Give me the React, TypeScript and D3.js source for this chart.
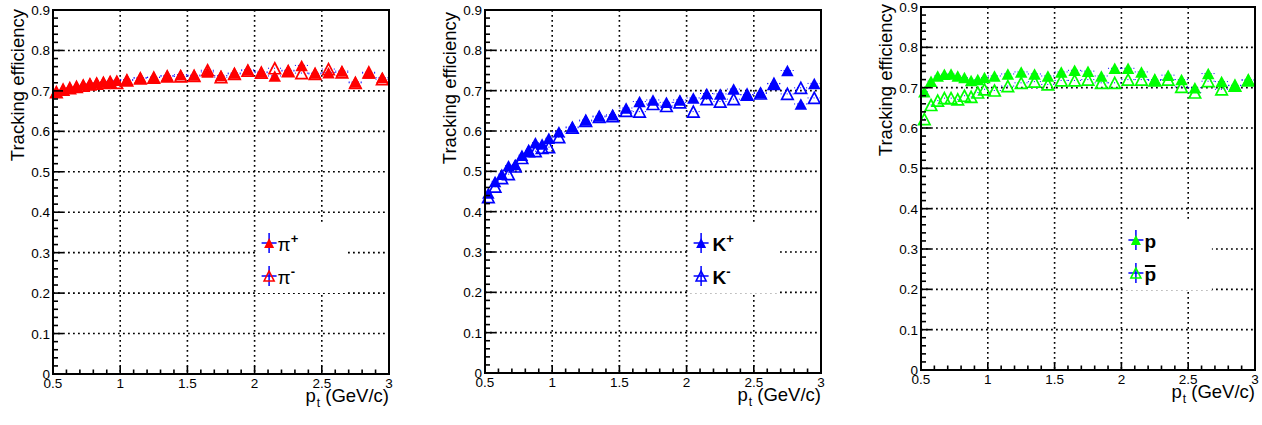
import React from 'react';
import * as d3 from 'd3';

// ---- data ----
const PT = [
  0.525, 0.575, 0.625, 0.675, 0.725, 0.775, 0.825, 0.875, 0.925, 0.975,
  1.05, 1.15, 1.25, 1.35, 1.45, 1.55, 1.65, 1.75, 1.85, 1.95,
  2.05, 2.15, 2.25, 2.35, 2.45, 2.55, 2.65, 2.75, 2.85, 2.95,
];

const PI_PLUS = [
  0.698, 0.704, 0.708, 0.711, 0.715, 0.718, 0.72, 0.722, 0.724, 0.726,
  0.728, 0.733, 0.734, 0.738, 0.74, 0.739, 0.747, 0.738, 0.744, 0.752,
  0.747, 0.737, 0.751, 0.763, 0.744, 0.745, 0.749, 0.722, 0.744, 0.733,
];
const PI_MINUS = [
  0.697, 0.703, 0.707, 0.71, 0.713, 0.716, 0.718, 0.72, 0.722, 0.72,
  0.726, 0.731, 0.733, 0.736, 0.736, 0.737, 0.751, 0.734, 0.742, 0.75,
  0.745, 0.756, 0.749, 0.744, 0.742, 0.754, 0.746, 0.72, 0.746, 0.729,
];

const K_PLUS = [
  0.446, 0.475, 0.493, 0.514, 0.517, 0.54, 0.552, 0.571, 0.568, 0.582,
  0.598, 0.61, 0.627, 0.637, 0.64, 0.657, 0.673, 0.677, 0.671, 0.677,
  0.682, 0.693, 0.692, 0.704, 0.69, 0.695, 0.718, 0.75, 0.667, 0.718,
];
const K_MINUS = [
  0.436, 0.462, 0.483, 0.493, 0.512, 0.533, 0.55, 0.55, 0.558, 0.56,
  0.585, 0.608, 0.625, 0.635, 0.637, 0.65, 0.648, 0.667, 0.662, 0.671,
  0.648, 0.679, 0.673, 0.679, 0.69, 0.693, 0.717, 0.692, 0.707, 0.682,
];

const PROTON = [
  0.69, 0.716, 0.729, 0.733, 0.734, 0.729, 0.725, 0.718, 0.72, 0.725,
  0.729, 0.734, 0.739, 0.734, 0.729, 0.739, 0.743, 0.741, 0.729, 0.748,
  0.748, 0.739, 0.72, 0.731, 0.72, 0.7, 0.735, 0.715, 0.706, 0.72,
];
const ANTIPROTON = [
  0.622, 0.657, 0.668, 0.674, 0.674, 0.671, 0.68, 0.677, 0.688, 0.696,
  0.693, 0.704, 0.712, 0.715, 0.708, 0.718, 0.718, 0.72, 0.712, 0.712,
  0.72, 0.72, 0.718, 0.72, 0.702, 0.688, 0.716, 0.696, 0.705, 0.718,
];

const X_TICKS = [0.5, 1, 1.5, 2, 2.5, 3];
const X_TICK_LABELS = ['0.5', '1', '1.5', '2', '2.5', '3'];
const Y_TICKS = [0, 0.1, 0.2, 0.3, 0.4, 0.5, 0.6, 0.7, 0.8, 0.9];
const Y_TICK_LABELS = ['0', '0.1', '0.2', '0.3', '0.4', '0.5', '0.6', '0.7', '0.8', '0.9'];
const X_GRID = [1, 1.5, 2, 2.5];
const Y_GRID = [0.1, 0.2, 0.3, 0.4, 0.5, 0.6, 0.7, 0.8];

const FONT = '"Liberation Sans", Arial, Helvetica, sans-serif';
const ERR_COLOR = '#0000ff';

function tri(cx: number, cy: number, w: number, h: number) {
  return `M${cx},${cy - h / 2}L${cx + w / 2},${cy + h / 2}L${cx - w / 2},${cy + h / 2}Z`;
}

type Frame = { left: number; top: number; right: number; bottom: number };

type PanelProps = {
  frame: Frame;
  filled: number[];
  open: number[];
  color: string;
  symbol: string;
  sups: string[];
  boldSymbol: boolean;
  bar: boolean;
  titleX: number;
  titleEndY: number;
  textDx: number;
};

function Legend({ x0, top, color, symbol, sups, boldSymbol, bar, textDx }: any) {
  const mx = x0 + 14.5;
  const rows = [
    { y: top + 233, sup: sups[0], filled: true, bar: false },
    { y: top + 266, sup: sups[1], filled: false, bar },
  ];
  return (
    <g>
      <rect x={x0 + 1.5} y={top + 215} width={89} height={68} fill="#fff" />
      {rows.map((r, i) => {
        const tx = x0 + textDx;
        const base = r.y + 8;
        return (
          <g key={i}>
            <line x1={mx - 7.5} x2={mx + 7.5} y1={r.y} y2={r.y} stroke={ERR_COLOR} strokeWidth={1.5} />
            <line x1={mx} x2={mx} y1={r.y - 10} y2={r.y + 10} stroke={ERR_COLOR} strokeWidth={1.5} />
            <path
              d={tri(mx, r.y, 10, 10)}
              fill={r.filled ? color : 'none'}
              stroke={color}
              strokeWidth={r.filled ? 0 : 1.6}
            />
            <text
              x={tx}
              y={base}
              fontFamily={FONT}
              fontSize={19}
              fontWeight={boldSymbol ? 'bold' : 'normal'}
              fill="#000"
            >
              {symbol}
              {r.sup ? (
                <tspan fontSize={13} fontWeight="bold" dy={-8}>
                  {r.sup}
                </tspan>
              ) : null}
            </text>
            {r.bar && (
              <line x1={tx + 0.5} x2={tx + 11} y1={base - 15} y2={base - 15} stroke="#000" strokeWidth={2} />
            )}
          </g>
        );
      })}
    </g>
  );
}

function Panel(p: PanelProps) {
  const { frame } = p;
  const x = d3.scaleLinear().domain([0.5, 3]).range([frame.left, frame.right]);
  const y = d3.scaleLinear().domain([0, 0.9]).range([frame.bottom, frame.top]);
  const yMinor = d3.range(0, 0.9001, 0.02);
  const xMinor = d3.range(0.5, 3.0001, 0.1);
  const half = (v: number) => (v < 1 ? 0.025 : 0.05);

  return (
    <g>
      {/* grid */}
      {X_GRID.map((g) => (
        <line key={'gx' + g} x1={x(g)} x2={x(g)} y1={frame.top} y2={frame.bottom}
          stroke="#000" strokeWidth={1.6} strokeDasharray="1.8,3.2" />
      ))}
      {Y_GRID.map((g) => (
        <line key={'gy' + g} x1={frame.left} x2={frame.right} y1={y(g)} y2={y(g)}
          stroke="#000" strokeWidth={1.6} strokeDasharray="1.8,3.2" />
      ))}

      {/* error bars (x) */}
      {PT.map((v, i) => (
        <g key={'e' + i}>
          <line x1={x(v - half(v))} x2={x(v + half(v))} y1={y(p.filled[i])} y2={y(p.filled[i])}
            stroke={ERR_COLOR} strokeWidth={1} strokeDasharray="1,2" />
          <line x1={x(v - half(v))} x2={x(v + half(v))} y1={y(p.open[i])} y2={y(p.open[i])}
            stroke={ERR_COLOR} strokeWidth={1} strokeDasharray="1,2" />
        </g>
      ))}

      {/* filled markers */}
      {PT.map((v, i) => (
        <path key={'f' + i} d={tri(x(v), y(p.filled[i]), 12.5, 11.5)} fill={p.color} />
      ))}
      {/* open markers */}
      {PT.map((v, i) => (
        <path key={'o' + i} d={tri(x(v), y(p.open[i]), 11.5, 11)} fill="none" stroke={p.color} strokeWidth={1.7} />
      ))}

      {/* legend */}
      <Legend x0={x(2)} top={frame.top} color={p.color} symbol={p.symbol} sups={p.sups}
        boldSymbol={p.boldSymbol} bar={p.bar} textDx={p.textDx} />

      {/* ticks */}
      {yMinor.map((v, i) => {
        const major = i % 5 === 0;
        return (
          <line key={'yt' + i} x1={frame.left} x2={frame.left + (major ? 10 : 5)} y1={y(v)} y2={y(v)}
            stroke="#000" strokeWidth={1.6} />
        );
      })}
      {xMinor.map((v, i) => {
        const major = i % 5 === 0;
        return (
          <line key={'xt' + i} x1={x(v)} x2={x(v)} y1={frame.bottom} y2={frame.bottom - (major ? 8 : 4.5)}
            stroke="#000" strokeWidth={1.6} />
        );
      })}

      {/* frame */}
      <rect x={frame.left} y={frame.top} width={frame.right - frame.left} height={frame.bottom - frame.top}
        fill="none" stroke="#000" strokeWidth={2} />

      {/* tick labels */}
      {Y_TICKS.map((v, i) => (
        <text key={'yl' + i} x={frame.left - 3} y={y(v) + 5} textAnchor="end"
          fontFamily={FONT} fontSize={13.5} fill="#000">
          {Y_TICK_LABELS[i]}
        </text>
      ))}
      {X_TICKS.map((v, i) => (
        <text key={'xl' + i} x={x(v)} y={frame.bottom + 14} textAnchor="middle"
          fontFamily={FONT} fontSize={13.5} fill="#000">
          {X_TICK_LABELS[i]}
        </text>
      ))}

      {/* axis titles */}
      <text x={frame.right} y={frame.bottom + 28} textAnchor="end" fontFamily={FONT} fontSize={18.5} fill="#000">
        p<tspan fontSize={12} dy={5} dx={1}>t</tspan>
        <tspan dy={-5}>{' (GeV/c)'}</tspan>
      </text>
      <text transform={`translate(${p.titleX},${p.titleEndY}) rotate(-90)`} textAnchor="end"
        fontFamily={FONT} fontSize={18.5} fill="#000">
        Tracking efficiency
      </text>
    </g>
  );
}

export default function App() {
  return (
    <svg width={1262} height={425} style={{ position: 'absolute', left: 0, top: 0, background: '#fff' }}>
      <rect x={0} y={0} width={1262} height={425} fill="#fff" />
      <Panel frame={{ left: 53, top: 10, right: 389, bottom: 374 }} filled={PI_PLUS} open={PI_MINUS}
        color="#ff0000" symbol="π" sups={['+', '-']} boldSymbol={false} bar={false}
        titleX={24} titleEndY={9} textDx={23} />
      <Panel frame={{ left: 485, top: 10, right: 821, bottom: 373 }} filled={K_PLUS} open={K_MINUS}
        color="#0000ff" symbol="K" sups={['+', '-']} boldSymbol={true} bar={false}
        titleX={456} titleEndY={12} textDx={26} />
      <Panel frame={{ left: 921, top: 7, right: 1255, bottom: 370 }} filled={PROTON} open={ANTIPROTON}
        color="#00ff00" symbol="p" sups={['', '']} boldSymbol={true} bar={true}
        titleX={892} titleEndY={4} textDx={23} />
    </svg>
  );
}
